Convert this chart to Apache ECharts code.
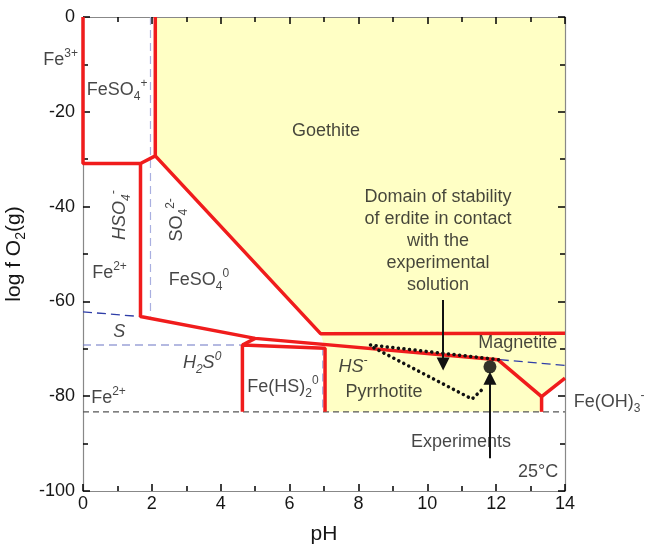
<!DOCTYPE html>
<html>
<head>
<meta charset="utf-8">
<script src="https://cdn.jsdelivr.net/npm/echarts@6/dist/echarts.min.js"></script>
<style>
  html, body { margin: 0; padding: 0; background: #fff; }
  #chart { width: 646px; height: 546px; }
</style>
</head>
<body>
<div id="chart"></div>
<script>
// field boundaries, [pH, log fO2]
const yellowField = [[2.1, 0], [14, 0], [14, -76.2], [13.32, -80.1], [13.32, -83.3], [7.03, -83.3], [7.03, -69.9], [6.9, -66.8], [2.1, -29.3]];
const feso4Box = [[0, 0], [0, -30.9], [1.67, -30.9], [2.1, -29.3], [2.1, 0]];
const pyrrhotiteTop = [[1.67, -30.9], [1.67, -63.2], [5.0, -67.8], [12.05, -72.3], [13.32, -80.1], [14, -76.2]];
const goethiteEdge = [[2.1, -29.3], [6.9, -66.8], [14, -66.7]];
const feoh3Edge = [[13.32, -80.1], [13.32, -83.3]];
const feHS2Box = [[4.63, -83.3], [4.63, -69.2], [7.03, -69.9], [7.03, -83.3]];
const feHS2Kink = [[4.63, -69.2], [5.0, -67.8]];
const sulfurLine = [[0, -62.2], [1.67, -63.2], [5.0, -67.8], [14, -73.5]];
const h2sLine = [[0, -69.2], [4.63, -69.2]];
const so4Line = [[1.96, 0], [1.96, -63.2]];
const hsLine = [[6.96, -69.7], [6.96, -83.3]];
const waterLine = [[0, -83.3], [14, -83.3]];
const erditeTop = [[8.35, -69.2], [12.2, -72.4]];
const erditeLow = [[8.45, -69.8], [11.3, -80.6], [11.65, -78.2]];
const experiment = [[11.82, -73.8]];
const arrows = [
  [[10.46, -59.7], [10.46, -73.2]],
  [[11.82, -93.1], [11.82, -76.2]]
];
const labels = [
  { x: -0.65, y: -9.1, text: '{n|Fe}{p|3+}' },
  { x: 0.99, y: -15.4, text: '{n|FeSO}{b|4}{p|+}' },
  { x: 1.07, y: -41.8, text: '{i|HSO}{ib|4}{ip|-}', rotate: 90 },
  { x: 2.73, y: -42.8, text: '{n|SO}{b|4}{p|2-}', rotate: 90 },
  { x: 0.77, y: -54.0, text: '{n|Fe}{p|2+}' },
  { x: 3.37, y: -55.5, text: '{n|FeSO}{b|4}{p|0}' },
  { x: 1.05, y: -66.5, text: '{i|S}' },
  { x: 3.46, y: -73.0, text: '{i|H}{ib|2}{i|S}{ip|0}' },
  { x: 0.74, y: -80.4, text: '{n|Fe}{p|2+}' },
  { x: 5.81, y: -78.0, text: '{n|Fe(HS)}{b|2}{p|0}' },
  { x: 7.06, y: -24.0, text: '{n|Goethite}' },
  { x: 10.31, y: -47.3, text: '{n|Domain of stability}\n{n|of erdite in contact}\n{n|with the}\n{n|experimental}\n{n|solution}' },
  { x: 12.63, y: -68.8, text: '{n|Magnetite}' },
  { x: 7.84, y: -73.8, text: '{i|HS}{ip|-}' },
  { x: 8.74, y: -79.1, text: '{n|Pyrrhotite}' },
  { x: 10.98, y: -89.7, text: '{n|Experiments}' },
  { x: 13.22, y: -96.0, text: '{n|25°C}' },
  { x: 15.28, y: -81.2, text: '{n|Fe(OH)}{b|3}{p|-}' }
];

const FONT = '"Liberation Sans", Arial, sans-serif';
const RED = '#f01c1c';
const INK = '#161616';
const rich = {
  n: { fontSize: 18, lineHeight: 22, color: INK },
  b: { fontSize: 12, lineHeight: 12, padding: [13, 0, 0, 0], color: INK },
  p: { fontSize: 12, lineHeight: 12, padding: [0, 0, 13, 0], color: INK },
  i: { fontSize: 18, lineHeight: 22, fontStyle: 'italic', color: INK },
  ib: { fontSize: 12, lineHeight: 12, fontStyle: 'italic', padding: [13, 0, 0, 0], color: INK },
  ip: { fontSize: 12, lineHeight: 12, fontStyle: 'italic', padding: [0, 0, 13, 0], color: INK }
};

const chart = echarts.init(document.getElementById('chart'));

function line(points, color, width, type, z) {
  return {
    type: 'line', data: points, symbol: 'none', silent: true, clip: false,
    lineStyle: { color: color, width: width, type: type }, z: z
  };
}

function axisStyle() {
  return {
    type: 'value',
    axisLine: { show: true, onZero: false, lineStyle: { color: '#888', width: 1.2 } },
    axisTick: { show: true, inside: true, length: 7, lineStyle: { color: '#000', width: 1.5 } },
    minorTick: { show: true, splitNumber: 2, length: 5, lineStyle: { color: '#000', width: 1.5 } },
    splitLine: { show: false }
  };
}

chart.setOption({
  animation: false,
  textStyle: { fontFamily: FONT },
  grid: { left: 83, right: 81, top: 17, bottom: 55, containLabel: false, outerBoundsMode: 'none' },
  xAxis: [
    Object.assign(axisStyle(), {
      min: 0, max: 14, interval: 2, position: 'bottom',
      axisLabel: { fontSize: 18, color: INK, margin: 4 },
      name: 'pH', nameLocation: 'middle', nameGap: 33,
      nameTextStyle: { fontSize: 21, color: INK }
    }),
    Object.assign(axisStyle(), {
      min: 0, max: 14, interval: 2, position: 'top', axisLabel: { show: false }
    })
  ],
  yAxis: [
    Object.assign(axisStyle(), {
      min: -100, max: 0, interval: 20, position: 'left',
      axisLabel: { fontSize: 18, color: INK, margin: 8 },
      name: '{a|log f O}{s|2}{a|(g)}', nameLocation: 'middle', nameGap: 57, nameRotate: 90,
      nameTextStyle: {
        rich: {
          a: { fontSize: 21, lineHeight: 24, color: INK },
          s: { fontSize: 14, lineHeight: 14, padding: [14, 0, 0, 0], color: INK }
        }
      }
    }),
    Object.assign(axisStyle(), {
      min: -100, max: 0, interval: 20, position: 'right', axisLabel: { show: false }
    })
  ],
  series: [
    {
      type: 'custom', silent: true, z: -1, data: [[0, 0]],
      renderItem: function (params, api) {
        return {
          type: 'polygon',
          shape: { points: yellowField.map(function (p) { return api.coord(p); }) },
          style: { fill: '#ffffc5' }
        };
      }
    },
    line(waterLine, '#555', 1.2, [6, 4], 2),
    line(so4Line, '#a9afe0', 1.2, [8, 5], 2),
    line(hsLine, '#a9afe0', 1.2, [8, 5], 2),
    line(h2sLine, '#6a74c4', 1.2, [8, 5], 2),
    line(sulfurLine, '#2f3ea8', 1.3, [9, 5], 2),
    line(feso4Box, RED, 3.5, 'solid', 3),
    line(pyrrhotiteTop, RED, 3.5, 'solid', 3),
    line(goethiteEdge, RED, 3.5, 'solid', 3),
    line(feoh3Edge, RED, 3.5, 'solid', 3),
    line(feHS2Box, RED, 3.5, 'solid', 3),
    line(feHS2Kink, RED, 3.5, 'solid', 3),
    {
      type: 'line', data: erditeTop, symbol: 'none', silent: true, z: 4,
      lineStyle: { color: '#111', width: 3.5, type: [0.1, 5.5], cap: 'round' }
    },
    {
      type: 'line', data: erditeLow, symbol: 'none', silent: true, z: 4,
      lineStyle: { color: '#111', width: 3.5, type: [0.1, 5.5], cap: 'round' }
    },
    {
      type: 'lines', coordinateSystem: 'cartesian2d', silent: true, z: 5,
      symbol: ['none', 'triangle'], symbolSize: [10, 13],
      lineStyle: { color: '#111', width: 2, opacity: 1, curveness: 0 },
      data: arrows.map(function (a) { return { coords: a }; })
    },
    {
      type: 'scatter', data: experiment, symbol: 'circle', symbolSize: 13, silent: true, z: 5,
      itemStyle: { color: '#000' }
    },
    {
      type: 'scatter', symbolSize: 0, silent: true, clip: false, z: 10,
      label: { show: true, position: 'inside', align: 'center', rich: rich },
      data: labels.map(function (l) {
        return { value: [l.x, l.y], label: { formatter: l.text, rotate: l.rotate || 0 } };
      })
    }
  ]
});
</script>
</body>
</html>
